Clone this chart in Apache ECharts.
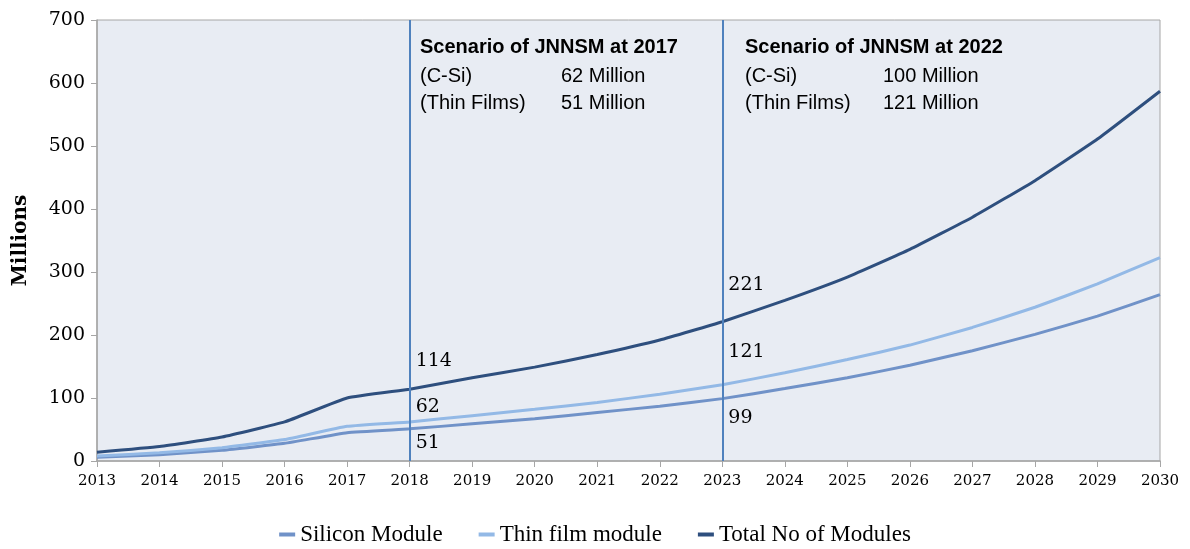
<!DOCTYPE html>
<html>
<head>
<meta charset="utf-8">
<script src="https://cdn.jsdelivr.net/npm/echarts@6/dist/echarts.min.js"></script>
<style>
html,body{margin:0;padding:0;background:#fff;}
#echart{width:1190px;height:549px;}
</style>
</head>
<body>
<div id="echart"></div>
<script>
var years=['2013','2014','2015','2016','2017','2018','2019','2020','2021','2022','2023','2024','2025','2026','2027','2028','2029','2030'];
var silicon=[6,10,17,28,45,51,59,67,77,87,99,115,132,152,175,201,230,264];
var thinFilm=[8,13,21,34,55,62,72,82,93,106,121,140,161,184,212,244,281,323];
var total=[14,23,38,62,100,114,132,149,169,192,221,255,292,336,387,445,511,587];
var markYears=['2018','2023'];
var scenario2017=['Scenario of JNNSM at 2017','(C-Si)','62 Million','(Thin Films)','51 Million'];
var scenario2022=['Scenario of JNNSM at 2022','(C-Si)','100 Million','(Thin Films)','121 Million'];

var echart = function echart() {
    var myChart = echarts.init(document.getElementById('echart'));
    var serif='"DejaVu Serif", "Liberation Serif", serif';
    var sans='"Liberation Sans", Arial, sans-serif';

    // 只在2018和2023显示数值
    function withLabels(arr,offsets){
        var out=[];
        for(let i=0;i<arr.length;i++){
            let idx=markYears.indexOf(years[i]);
            if(idx>=0){
                out.push({value:arr[i],label:{show:true,position:'right',distance:6,offset:offsets[idx]}});
            }else{
                out.push(arr[i]);
            }
        }
        return out;
    }

    function lineSeries(name,data,color,offsets){
        return {
            name:name,
            type:'line',
            data:withLabels(data,offsets),
            symbol:'circle',
            symbolSize:0,
            showSymbol:true,
            smooth:0.12,
            lineStyle:{color:color,width:3},
            itemStyle:{color:color},
            label:{show:false,color:'#000',fontFamily:serif,fontSize:19},
            z:3
        };
    }

    function scenarioText(lines,x,col){
        return [
            {type:'text',left:x,top:37,style:{text:lines[0],font:'bold 20px '+sans,fill:'#000'}},
            {type:'text',left:x,top:66,style:{text:lines[1],font:'20px '+sans,fill:'#000'}},
            {type:'text',left:col,top:66,style:{text:lines[2],font:'20px '+sans,fill:'#000'}},
            {type:'text',left:x,top:93,style:{text:lines[3],font:'20px '+sans,fill:'#000'}},
            {type:'text',left:col,top:93,style:{text:lines[4],font:'20px '+sans,fill:'#000'}}
        ];
    }

    var option={
        animation:false,
        grid:{
            left:97,right:30,top:20,bottom:88,
            show:true,
            backgroundColor:'#e8ecf3',
            borderColor:'#a6a6a6',
            borderWidth:1
        },
        legend:{
            bottom:-2,
            left:'center',
            itemWidth:16,
            itemHeight:4,
            itemGap:36,
            icon:'rect',
            textStyle:{fontFamily:'"Liberation Serif", serif',fontSize:23,color:'#000'},
            data:['Silicon Module','Thin film module','Total No of Modules']
        },
        xAxis:{
            type:'category',
            data:years,
            boundaryGap:false,
            axisLine:{lineStyle:{color:'#a6a6a6',width:1.5}},
            axisTick:{show:true,length:6,lineStyle:{color:'#a6a6a6'}},
            axisLabel:{color:'#000',fontFamily:serif,fontSize:15,margin:13},
            splitLine:{show:false}
        },
        yAxis:{
            type:'value',
            min:0,max:700,interval:100,
            name:'Millions',
            nameLocation:'middle',
            nameGap:66,
            nameTextStyle:{fontFamily:serif,fontSize:20,fontWeight:'bold',color:'#000'},
            axisLine:{show:true,lineStyle:{color:'#a6a6a6',width:1.5}},
            axisTick:{show:true,length:6,lineStyle:{color:'#a6a6a6'}},
            axisLabel:{color:'#000',fontFamily:serif,fontSize:19,margin:12},
            splitLine:{show:false}
        },
        graphic:scenarioText(scenario2017,420,561).concat(scenarioText(scenario2022,745,883)),
        series:[
            lineSeries('Silicon Module',silicon,'#7092c8',[[0,14],[0,19]]),
            lineSeries('Thin film module',thinFilm,'#93b9e6',[[0,-15],[0,-33]]),
            lineSeries('Total No of Modules',total,'#2e4f7e',[[0,-28],[0,-37]]),
            {
                name:'marks',
                type:'line',
                data:[],
                markLine:{
                    silent:true,
                    symbol:'none',
                    label:{show:false},
                    lineStyle:{color:'#4f81bd',width:2,type:'solid'},
                    data:markYears.map(function(y){return {xAxis:y};})
                }
            }
        ]
    };

    myChart.setOption(option);
}();
</script>
</body>
</html>
